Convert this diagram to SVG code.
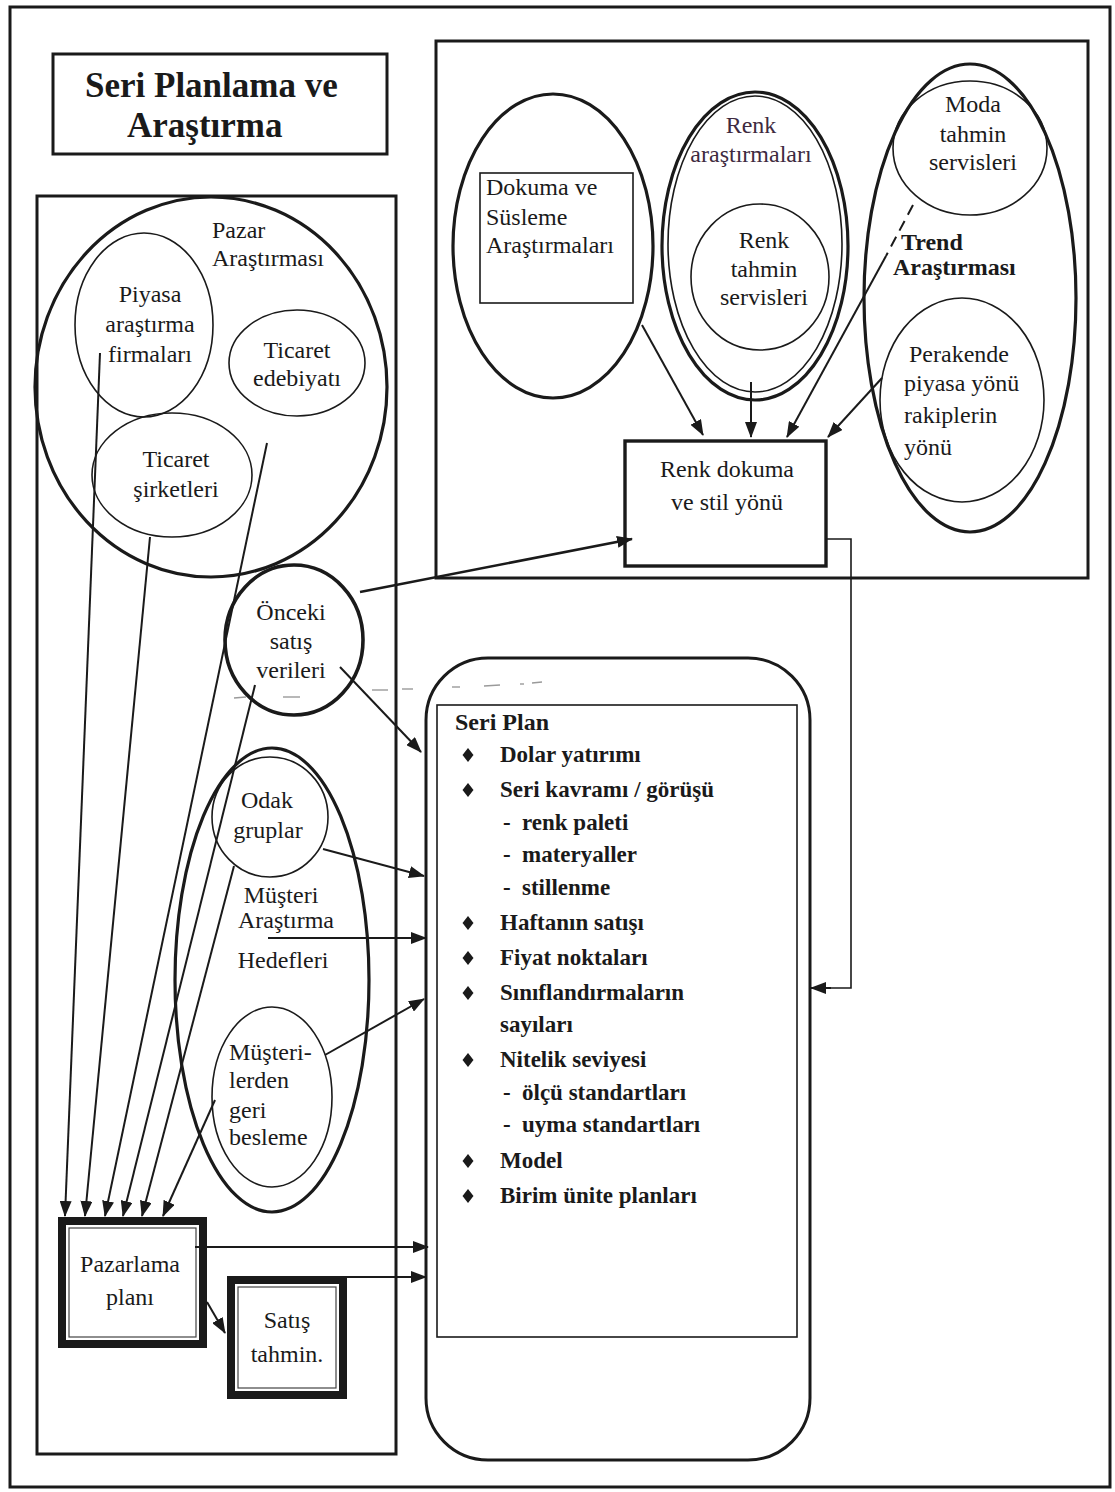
<svg xmlns="http://www.w3.org/2000/svg" width="1115" height="1492" viewBox="0 0 1115 1492">
  <style>
    .bg { fill: #ffffff; }
    .frame { fill: none; stroke: #1a1a1a; stroke-width: 3; }
    .thick { fill: none; stroke: #1a1a1a; stroke-width: 3.2; }
    .thin { fill: none; stroke: #1a1a1a; stroke-width: 1.6; }
    .t { font-family: "Liberation Serif", "Times New Roman", serif; font-size: 24px; fill: #1a1a1a; }
    .c { text-anchor: middle; }
    .b { font-weight: bold; }
    .title { font-family: "Liberation Serif", "Times New Roman", serif; font-size: 35px; font-weight: bold; fill: #1a1a1a; }
    .lst { font-family: "Liberation Serif", "Times New Roman", serif; font-size: 23px; font-weight: bold; fill: #1a1a1a; }
    .pur { fill: #3e2a40; }
    .wire { fill: none; stroke: #1a1a1a; stroke-width: 2; marker-end: url(#ah); }
    .wireb { fill: none; stroke: #1a1a1a; stroke-width: 2.6; marker-end: url(#ah); }
    .plain { fill: none; stroke: #1a1a1a; stroke-width: 1.6; }
    .faint { fill: none; stroke: #9a9a9a; stroke-width: 1.4; }
  </style>
  <defs>
    <marker id="ah" viewBox="0 0 16 12" refX="15" refY="6" markerWidth="16" markerHeight="12" orient="auto" markerUnits="userSpaceOnUse">
      <path d="M0,0 L16,6 L0,12 z" fill="#1a1a1a"/>
    </marker>
    <polygon id="dia" points="0,-7 5.5,0 0,7 -5.5,0" fill="#1a1a1a"/>
  </defs>

  <rect class="bg" x="0" y="0" width="1115" height="1492"/>

  <!-- page frame and section boxes -->
  <rect class="frame" x="10" y="7" width="1100" height="1480"/>
  <rect class="frame" x="37" y="196" width="359" height="1258"/>
  <rect class="frame" x="436" y="41" width="652" height="537"/>

  <g id="title">
    <rect class="frame" x="53" y="54" width="334" height="100"/>
    <text class="title" x="85" y="97">Seri Planlama ve</text>
    <text class="title" x="127" y="137">Araştırma</text>
  </g>

  <!-- market research cluster -->
  <g id="pazar-arastirmasi">
    <ellipse class="thick" cx="211" cy="387" rx="176" ry="190"/>
    <text class="t" x="212" y="238">Pazar</text>
    <text class="t" x="212" y="266">Araştırması</text>
  </g>
  <g id="piyasa-firmalari">
    <ellipse class="thin" cx="144" cy="325" rx="69" ry="92"/>
    <text class="t c" x="150" y="302">Piyasa</text>
    <text class="t c" x="150" y="332">araştırma</text>
    <text class="t c" x="150" y="362">firmaları</text>
  </g>
  <g id="ticaret-edebiyati">
    <ellipse class="thin" cx="297" cy="363" rx="68" ry="53"/>
    <text class="t c" x="297" y="358">Ticaret</text>
    <text class="t c" x="297" y="386">edebiyatı</text>
  </g>
  <g id="ticaret-sirketleri">
    <ellipse class="thin" cx="172" cy="475" rx="80" ry="62"/>
    <text class="t c" x="176" y="467">Ticaret</text>
    <text class="t c" x="176" y="497">şirketleri</text>
  </g>

  <g id="onceki-satis">
    <ellipse cx="294" cy="640" rx="69" ry="75" fill="none" stroke="#1a1a1a" stroke-width="3.6"/>
    <text class="t c" x="291" y="620">Önceki</text>
    <text class="t c" x="291" y="649">satış</text>
    <text class="t c" x="291" y="678">verileri</text>
  </g>

  <!-- customer research cluster -->
  <g id="musteri-arastirma">
    <ellipse class="thick" cx="272" cy="980" rx="97" ry="232"/>
    <text class="t c" x="281" y="903">Müşteri</text>
    <text class="t c" x="286" y="928">Araştırma</text>
    <text class="t c" x="283" y="968">Hedefleri</text>
  </g>
  <g id="odak-gruplar">
    <ellipse class="thin" cx="270" cy="817" rx="58" ry="60"/>
    <text class="t c" x="267" y="808">Odak</text>
    <text class="t c" x="268" y="838">gruplar</text>
  </g>
  <g id="musterilerden-geri-besleme">
    <ellipse class="thin" cx="272" cy="1097" rx="60" ry="90"/>
    <text class="t" x="229" y="1060">Müşteri-</text>
    <text class="t" x="229" y="1088">lerden</text>
    <text class="t" x="229" y="1118">geri</text>
    <text class="t" x="229" y="1145">besleme</text>
  </g>

  <g id="pazarlama-plani">
    <rect x="62" y="1221" width="141" height="123" fill="#ffffff" stroke="#1a1a1a" stroke-width="8"/>
    <rect x="69" y="1228" width="127" height="109" fill="none" stroke="#444" stroke-width="1.2"/>
    <text class="t c" x="130" y="1272">Pazarlama</text>
    <text class="t c" x="130" y="1305">planı</text>
  </g>
  <g id="satis-tahmin">
    <rect x="231" y="1280" width="112" height="115" fill="#ffffff" stroke="#1a1a1a" stroke-width="8"/>
    <rect x="238" y="1287" width="98" height="101" fill="none" stroke="#444" stroke-width="1.2"/>
    <text class="t c" x="287" y="1328">Satış</text>
    <text class="t c" x="287" y="1362">tahmin.</text>
  </g>

  <!-- trend and design research cluster -->
  <g id="dokuma-susleme">
    <ellipse class="thick" cx="553" cy="246" rx="100" ry="152"/>
    <rect class="thin" x="480" y="173" width="153" height="130"/>
    <text class="t" x="486" y="195">Dokuma ve</text>
    <text class="t" x="486" y="225">Süsleme</text>
    <text class="t" x="486" y="253">Araştırmaları</text>
  </g>
  <g id="renk-arastirmalari">
    <ellipse class="thick" cx="755" cy="246" rx="93" ry="154"/>
    <ellipse class="thin" cx="755" cy="244" rx="87" ry="148"/>
    <text class="t c pur" x="751" y="133">Renk</text>
    <text class="t c pur" x="751" y="162">araştırmaları</text>
  </g>
  <g id="renk-tahmin">
    <ellipse class="thin" cx="760" cy="277" rx="69" ry="73"/>
    <text class="t c" x="764" y="248">Renk</text>
    <text class="t c" x="764" y="277">tahmin</text>
    <text class="t c" x="764" y="305">servisleri</text>
  </g>
  <g id="trend-arastirmasi">
    <ellipse class="thick" cx="970" cy="298" rx="106" ry="234"/>
    <text class="t b" x="901" y="250">Trend</text>
    <text class="t b" x="893" y="275">Araştırması</text>
  </g>
  <g id="moda-tahmin">
    <ellipse class="thin" cx="970" cy="148" rx="77" ry="67"/>
    <text class="t c" x="973" y="112">Moda</text>
    <text class="t c" x="973" y="142">tahmin</text>
    <text class="t c" x="973" y="170">servisleri</text>
  </g>
  <g id="perakende">
    <ellipse class="thin" cx="962" cy="400" rx="82" ry="102"/>
    <text class="t" x="909" y="362">Perakende</text>
    <text class="t" x="904" y="391">piyasa yönü</text>
    <text class="t" x="904" y="423">rakiplerin</text>
    <text class="t" x="904" y="455">yönü</text>
  </g>
  <g id="renk-dokuma-stil">
    <rect x="625" y="441" width="201" height="125" fill="none" stroke="#1a1a1a" stroke-width="3.4"/>
    <text class="t c" x="727" y="477">Renk dokuma</text>
    <text class="t c" x="727" y="510">ve stil yönü</text>
  </g>

  <!-- collection plan -->
  <g id="seri-plan">
    <rect class="frame" x="426" y="658" width="384" height="802" rx="62" ry="62"/>
    <rect class="thin" x="437" y="705" width="360" height="632"/>
    <text class="lst" x="455" y="730" style="font-size:24px">Seri Plan</text>
    <use href="#dia" x="468" y="755"/>
    <text class="lst" x="500" y="762">Dolar yatırımı</text>
    <use href="#dia" x="468" y="790"/>
    <text class="lst" x="500" y="797">Seri kavramı / görüşü</text>
    <text class="lst" x="503" y="830">-</text>
    <text class="lst" x="522" y="830">renk paleti</text>
    <text class="lst" x="503" y="862">-</text>
    <text class="lst" x="522" y="862">materyaller</text>
    <text class="lst" x="503" y="895">-</text>
    <text class="lst" x="522" y="895">stillenme</text>
    <use href="#dia" x="468" y="923"/>
    <text class="lst" x="500" y="930">Haftanın satışı</text>
    <use href="#dia" x="468" y="958"/>
    <text class="lst" x="500" y="965">Fiyat noktaları</text>
    <use href="#dia" x="468" y="993"/>
    <text class="lst" x="500" y="1000">Sınıflandırmaların</text>
    <text class="lst" x="500" y="1032">sayıları</text>
    <use href="#dia" x="468" y="1060"/>
    <text class="lst" x="500" y="1067">Nitelik seviyesi</text>
    <text class="lst" x="503" y="1100">-</text>
    <text class="lst" x="522" y="1100">ölçü standartları</text>
    <text class="lst" x="503" y="1132">-</text>
    <text class="lst" x="522" y="1132">uyma standartları</text>
    <use href="#dia" x="468" y="1161"/>
    <text class="lst" x="500" y="1168">Model</text>
    <use href="#dia" x="468" y="1196"/>
    <text class="lst" x="500" y="1203">Birim ünite planları</text>
  </g>

  <!-- connectors -->
  <g id="connectors">
    <!-- into the marketing plan -->
    <line class="wire" x1="100" y1="353" x2="65" y2="1216"/>
    <line class="wire" x1="150" y1="537" x2="85" y2="1216"/>
    <line class="wire" x1="267" y1="443" x2="105" y2="1216"/>
    <line class="wire" x1="255" y1="685" x2="123" y2="1216"/>
    <line class="wire" x1="234" y1="866" x2="142" y2="1216"/>
    <line class="wire" x1="215" y1="1100" x2="163" y2="1216"/>
    <!-- marketing plan onwards -->
    <line class="wire" x1="207" y1="1302" x2="225" y2="1333"/>
    <line class="wire" x1="195" y1="1247" x2="428" y2="1247"/>
    <line class="wire" x1="343" y1="1277" x2="426" y2="1277"/>
    <!-- research into the collection plan -->
    <line class="wire" x1="340" y1="667" x2="421" y2="752"/>
    <line class="wire" x1="323" y1="849" x2="424" y2="876"/>
    <line class="wire" x1="268" y1="938" x2="426" y2="938"/>
    <line class="wire" x1="325" y1="1055" x2="424" y2="999"/>
    <!-- previous sales to direction box -->
    <line class="wireb" x1="360" y1="592" x2="632" y2="539"/>
    <!-- trend research into direction box -->
    <line class="wire" x1="642" y1="325" x2="703" y2="435"/>
    <line class="wire" x1="751" y1="382" x2="751" y2="437"/>
    <line x1="913" y1="205" x2="886" y2="256" fill="none" stroke="#1a1a1a" stroke-width="2" stroke-dasharray="11 7"/>
    <line class="wire" x1="886" y1="256" x2="787" y2="437"/>
    <line class="wire" x1="882" y1="378" x2="828" y2="437"/>
    <!-- direction box down to the collection plan -->
    <polyline class="plain" points="826,539 851,539 851,988 830,988"/>
    <line class="wire" x1="831" y1="988" x2="811" y2="988"/>
    <!-- faint broken marks -->
    <line class="faint" x1="234" y1="698" x2="246" y2="697"/>
    <line class="faint" x1="283" y1="697" x2="300" y2="697"/>
    <line class="faint" x1="372" y1="690" x2="388" y2="690"/>
    <line class="faint" x1="402" y1="689" x2="413" y2="689"/>
    <line class="faint" x1="452" y1="687" x2="460" y2="687"/>
    <line class="faint" x1="484" y1="686" x2="500" y2="685"/>
    <line class="faint" x1="520" y1="684" x2="524" y2="684"/>
    <line class="faint" x1="532" y1="683" x2="542" y2="682"/>
  </g>
</svg>
